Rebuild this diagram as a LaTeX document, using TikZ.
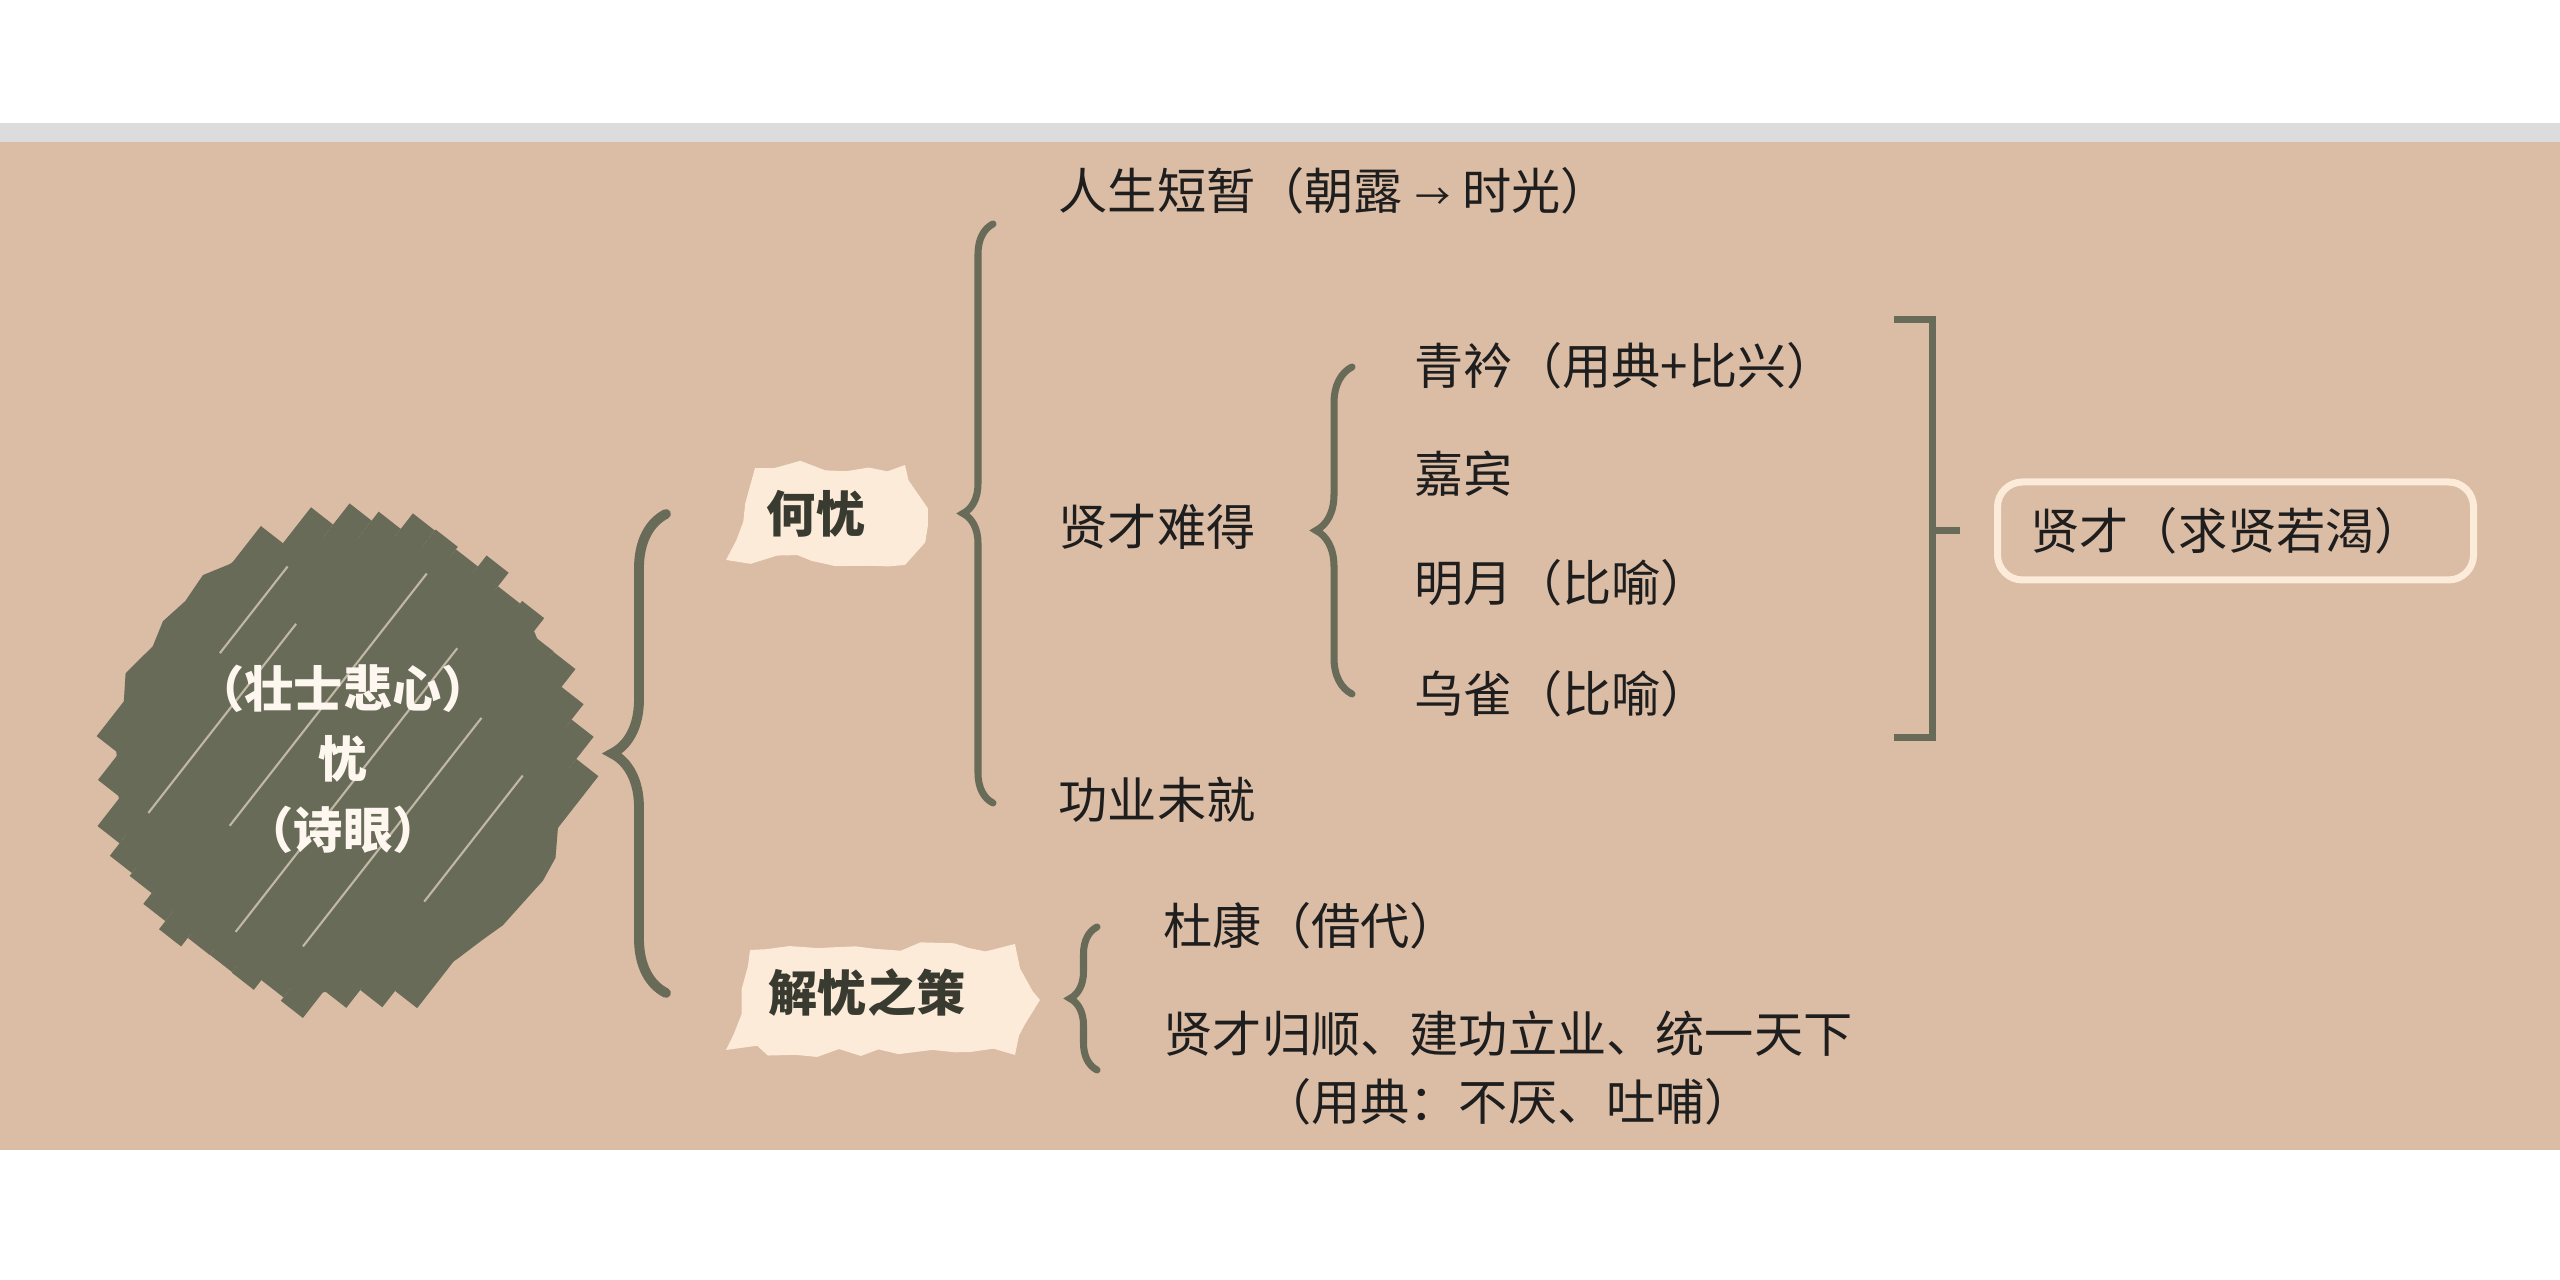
\documentclass[tikz,border=0pt]{standalone}
\usepackage{fontspec}
\setmainfont{Noto Sans CJK SC}
\usetikzlibrary{decorations.pathreplacing,decorations.pathmorphing}
\definecolor{bgtan}{HTML}{DBBCA5}
\definecolor{stripgray}{HTML}{DCDCDC}
\definecolor{moss}{HTML}{686B58}
\definecolor{cream}{HTML}{FCEBD9}
\definecolor{ink}{HTML}{1E1E1E}
\tikzset{
  txt/.style={anchor=west, inner sep=0pt, text=ink, font=\fontsize{14}{19.5}\selectfont},
  tag/.style={inner sep=0pt, text=moss!55!black, font=\fontsize{14}{17}\selectfont\bfseries},
  brc/.style={draw=moss, line width=2pt, line cap=round, decorate, decoration={brace, amplitude=#1}},
  scribble/.style={fill=cream, decorate, decoration={random steps, segment length=0.22cm, amplitude=0.07cm}},
}
\begin{document}
\begin{tikzpicture}
        \pgfmathsetseed{42}
        \useasboundingbox (0,0) rectangle (25.6,12.8);
        \fill[white] (0,0) rectangle (25.6,12.8);
        \fill[stripgray] (0,11.38) rectangle (25.6,11.57);
        \fill[bgtan] (0,1.30) rectangle (25.6,11.38);

        % centre circle, made of strokes
        \begin{scope}[shift={(3.43,5.18)}, rotate=52]
          \fill[moss, decorate, decoration={random steps, segment length=0.3cm, amplitude=0.06cm}] (0,0) circle (2.27cm);
          \foreach \i in {-7,...,7}{
            \pgfmathsetmacro\d{0.28*\i}
            \pgfmathsetmacro\hr{sqrt(2.42*2.42-\d*\d)+0.12*rand}
            \pgfmathsetmacro\hl{sqrt(2.42*2.42-\d*\d)+0.12*rand}
            \draw[moss, line width=0.28cm] (-\hl,\d) -- (\hr,\d);
          }
          \foreach \d/\a/\b in {-1.5/-0.6/1.0, -0.82/-1.7/1.2, -0.2/-2.0/1.6, 0.5/-1.2/2.0, 1.22/-1.6/0.8, 1.64/0.1/1.2}
            \draw[cream, opacity=0.6, line width=0.6pt] (\a,\d) -- (\b,\d);
        \end{scope}
        \node[inner sep=0pt, align=center, text=cream!40!white, font=\fontsize{14}{20}\selectfont\bfseries] (YouCircle) at (3.43,5.21) {（壮士悲心）\\忧\\（诗眼）};

        % labels on scribbles
        \fill[scribble] (7.26,7.20) -- (7.55,8.12) -- (9.05,8.15) -- (9.28,7.55) -- (9.05,7.15) -- cycle;
        \node[tag] (HeYou) at (8.16,7.66) {何忧};
        \fill[scribble] (7.26,2.30) -- (7.50,3.30) -- (10.15,3.36) -- (10.40,2.80) -- (10.15,2.25) -- cycle;
        \node[tag] (JieYou) at (8.67,2.87) {解忧之策};

        \coordinate (BigBraceX) at (6.66,0);
        \draw[brc=0.54cm, line width=2.8pt] (BigBraceX |- JieYou) -- (BigBraceX |- HeYou);

        % what troubles
        \coordinate (HeTop) at (9.93,10.56);
        \coordinate (HeBot) at (9.93,4.77);
        \draw[brc=0.3cm] (HeBot) -- (HeTop);
        \node[txt] (RenSheng) at (10.58,10.89) {人生短暂（朝露\hspace{0.12cm}{\fontsize{10}{10}\selectfont →}\hspace{0.12cm}时光）};
        \node[txt] (XianCaiNan) at (10.58,7.53) {贤才难得};
        \node[txt] (GongYe) at (10.58,4.80) {功业未就};

        \coordinate (XcTop) at (13.52,9.13);
        \coordinate (XcBot) at (13.52,5.86);
        \draw[brc=0.36cm] (XcBot) -- (XcTop);
        \node[txt] (QingJin) at (14.14,9.14) {青衿（用典+比兴）};
        \node[txt] (JiaBin) at (14.14,8.06) {嘉宾};
        \node[txt] (MingYue) at (14.14,6.97) {明月（比喻）};
        \node[txt] (WuQue) at (14.14,5.86) {乌雀（比喻）};

        \draw[moss, line width=2pt] (18.94,9.60) -- (19.32,9.60) -- (19.32,5.42) -- (18.94,5.42);
        \coordinate (BrMid) at (19.32,7.49);
        \coordinate (BrStub) at (19.60,7.49);
        \draw[moss, line width=2pt] (BrMid) -- (BrStub);
        \node[txt, draw=cream, line width=2pt, rounded corners=0.25cm, minimum height=0.98cm, text width=4.1cm, align=left, inner xsep=0.33cm] (XianCaiBox) at (19.94,7.49) {贤才（求贤若渴）};

        % the way out
        \coordinate (JyTop) at (10.97,3.53);
        \coordinate (JyBot) at (10.97,2.10);
        \draw[brc=0.27cm] (JyBot) -- (JyTop);
        \node[txt] (DuKang) at (11.63,3.54) {杜康（借代）};
        \node[txt, align=center] (GuiShun) at (11.63,2.12) {贤才归顺、建功立业、统一天下\\（用典：不厌、吐哺）};
\end{tikzpicture}
\end{document}
